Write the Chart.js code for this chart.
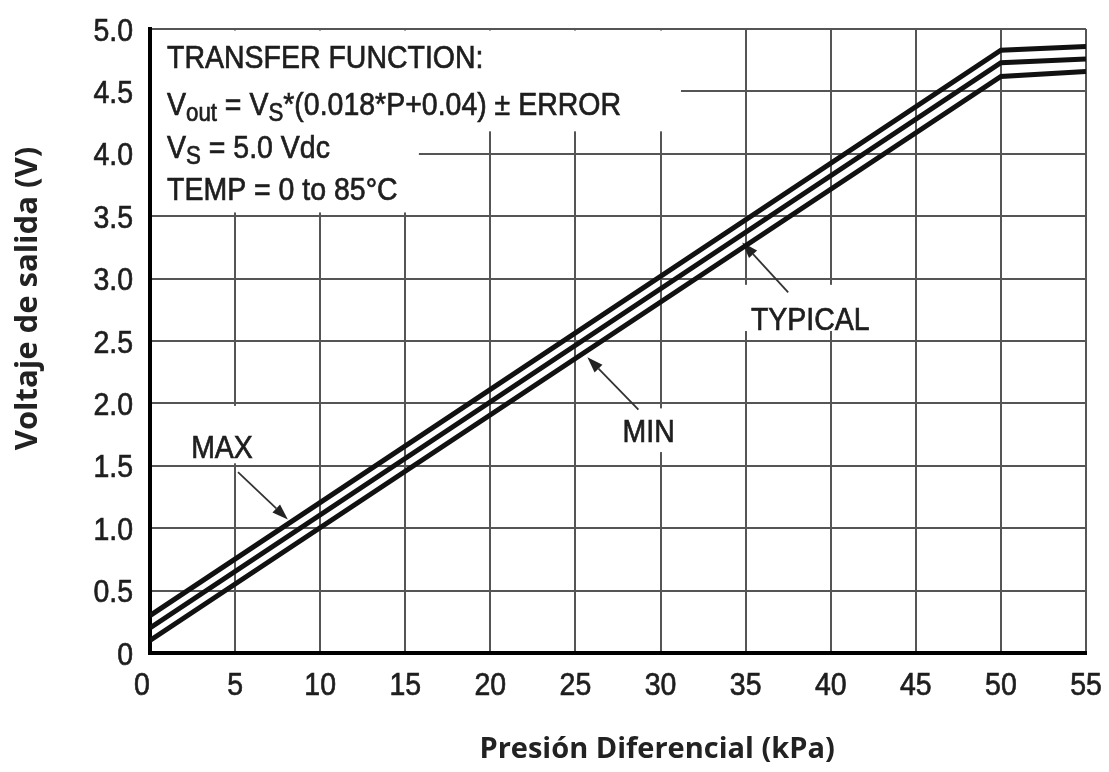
<!DOCTYPE html>
<html>
<head>
<meta charset="utf-8">
<script src="https://cdn.jsdelivr.net/npm/chart.js@4.4.1/dist/chart.umd.min.js"></script>
<style>
  html, body { margin: 0; padding: 0; background: #fff; }
  #wrap { width: 1109px; height: 772px; }
</style>
</head>
<body>
<div id="wrap"><canvas id="chart" width="1109" height="772"></canvas></div>
<script>
// pressure (kPa) and output voltage (V)
const pressure = [0, 50, 55];
const voltMax = [0.30, 4.83, 4.86];
const voltTyp = [0.20, 4.73, 4.76];
const voltMin = [0.10, 4.62, 4.66];

const xTickValues = [0, 5, 10, 15, 20, 25, 30, 35, 40, 45, 50, 55];
const xTickLabels = ['0', '5', '10', '15', '20', '25', '30', '35', '40', '45', '50', '55'];
const yTickValues = [0, 0.5, 1.0, 1.5, 2.0, 2.5, 3.0, 3.5, 4.0, 4.5, 5.0];
const yTickLabels = ['0', '0.5', '1.0', '1.5', '2.0', '2.5', '3.0', '3.5', '4.0', '4.5', '5.0'];

const xTitle = 'Presión Diferencial (kPa)';
const yTitle = 'Voltaje de salida (V)';

const sans = '"Liberation Sans", Arial, sans-serif';
const squeeze = 0.89;   // condensed look of the original lettering
const ink = '#1e1e1e';
const gridColor = '#555';

function toPoints(values) {
    return pressure.map((p, i) => ({ x: p, y: values[i] }));
}

function lineSet(label, values) {
    return {
        label: label,
        data: toPoints(values),
        showLine: true,
        borderColor: '#111',
        borderWidth: 5,
        pointRadius: 0,
        tension: 0,
    };
}

// narrow text: squeezed horizontally and a bit heavier, returns drawn width
function narrowText(ctx, text, x, y, size, align) {
    ctx.save();
    ctx.font = size + 'px ' + sans;
    ctx.textAlign = align || 'left';
    ctx.translate(x, y);
    ctx.scale(squeeze, 1);
    ctx.fillStyle = ink;
    ctx.strokeStyle = ink;
    ctx.lineWidth = 0.7;
    ctx.fillText(text, 0, 0);
    ctx.strokeText(text, 0, 0);
    const w = ctx.measureText(text).width * squeeze;
    ctx.restore();
    return w;
}

// row of pieces: [text, size, shiftDown]
function drawRuns(ctx, x, y, runs) {
    runs.forEach(([text, size, dy]) => {
        x += narrowText(ctx, text, x, y + dy, size, 'left');
    });
}

function arrow(ctx, x0, y0, x1, y1) {
    const ang = Math.atan2(y1 - y0, x1 - x0);
    const len = 16, half = 5.5;
    const bx = x1 - len * Math.cos(ang), by = y1 - len * Math.sin(ang);
    ctx.beginPath();
    ctx.moveTo(x0, y0);
    ctx.lineTo(bx, by);
    ctx.stroke();
    ctx.beginPath();
    ctx.moveTo(x1, y1);
    ctx.lineTo(bx + half * Math.sin(ang), by - half * Math.cos(ang));
    ctx.lineTo(bx - half * Math.sin(ang), by + half * Math.cos(ang));
    ctx.closePath();
    ctx.fill();
}

const notes = {
    id: 'notes',
    beforeDatasetsDraw(chart) {
        const { ctx, chartArea: a, scales: { x, y } } = chart;
        const px = v => x.getPixelForValue(v);
        const py = v => y.getPixelForValue(v);
        ctx.save();

        // white patches behind the texts
        ctx.fillStyle = '#fff';
        ctx.fillRect(a.left + 2, py(5) + 1.5, px(31.2) - a.left - 2, py(4.18) - py(5) - 1.5);
        ctx.fillRect(a.left + 2, py(4.18) - 1, px(15.8) - a.left - 2, py(3.53) - py(4.18) + 1);
        ctx.fillRect(px(34.8), py(2.95), px(42.4) - px(34.8), py(2.58) - py(2.95));
        ctx.fillRect(px(27.3), py(1.96), px(31.4) - px(27.3), py(1.61) - py(1.96));
        ctx.fillRect(px(2.0), py(1.98), px(6.6) - px(2.0), py(1.52) - py(1.98));

        ctx.textBaseline = 'alphabetic';
        const tx = px(1.0);
        drawRuns(ctx, tx, py(4.69), [['TRANSFER FUNCTION:', 32, 0]]);
        drawRuns(ctx, tx, py(4.31), [
            ['V', 32, 0], ['out', 25, 6], [' = V', 32, 0], ['S', 25, 6],
            ['*(0.018*P+0.04) \u00B1 ERROR', 32, 0]
        ]);
        drawRuns(ctx, tx, py(3.97), [['V', 32, 0], ['S', 25, 6], [' = 5.0 Vdc', 32, 0]]);
        drawRuns(ctx, tx, py(3.63), [['TEMP = 0 to 85\u00B0C', 32, 0]]);

        narrowText(ctx, 'MAX', px(4.23), py(1.56), 32, 'center');
        narrowText(ctx, 'TYPICAL', px(38.8), py(2.59), 32, 'center');
        narrowText(ctx, 'MIN', px(29.3), py(1.69), 32, 'center');

        ctx.strokeStyle = '#333';
        ctx.fillStyle = '#222';
        ctx.lineWidth = 1.8;
        arrow(ctx, px(5.17), py(1.45), px(8.1), py(1.07));
        arrow(ctx, px(37.5), py(2.89), px(34.8), py(3.29));
        arrow(ctx, px(28.7), py(1.95), px(25.7), py(2.37));

        // tick labels, placed by the scales
        x.ticks.forEach((t, i) => {
            const shift = i === 0 ? -8 : 0;
            narrowText(ctx, xTickLabels[i], x.getPixelForValue(t.value) + shift, a.bottom + 42, 32, 'center');
        });
        y.ticks.forEach((t, i) => {
            narrowText(ctx, yTickLabels[i], a.left - 17, y.getPixelForValue(t.value) + 11.5, 32, 'right');
        });

        // axis titles
        ctx.fillStyle = '#222';
        ctx.textAlign = 'center';
        ctx.textBaseline = 'middle';
        ctx.font = 'bold 29px "Open Sans", sans-serif';
        ctx.fillText(xTitle, px(29.8), a.bottom + 97);
        ctx.save();
        ctx.translate(28, py(2.84));
        ctx.rotate(-Math.PI / 2);
        ctx.font = 'bold 31px "Open Sans", sans-serif';
        ctx.fillText(yTitle, 0, 0);
        ctx.restore();
        ctx.restore();
    }
};

new Chart(document.getElementById('chart'), {
    type: 'scatter',
    data: {
        datasets: [
            lineSet('MAX', voltMax),
            lineSet('TYPICAL', voltTyp),
            lineSet('MIN', voltMin),
        ],
    },
    options: {
        responsive: false,
        animation: false,
        devicePixelRatio: 1,
        layout: { padding: { top: 29, right: 23, left: 0, bottom: 0 } },
        plugins: {
            legend: { display: false },
            tooltip: { enabled: false },
        },
        scales: {
            x: {
                type: 'linear',
                min: 0,
                max: 55,
                afterBuildTicks: s => { s.ticks = xTickValues.map(v => ({ value: v })); },
                afterFit: s => { s.height = 119; },
                grid: { color: gridColor, lineWidth: 2, drawTicks: false },
                border: { color: '#000', width: 4 },
                ticks: { display: false },
                title: { display: false, text: xTitle },
            },
            y: {
                type: 'linear',
                min: 0,
                max: 5,
                afterBuildTicks: s => { s.ticks = yTickValues.map(v => ({ value: v })); },
                afterFit: s => { s.width = 150; },
                grid: { color: gridColor, lineWidth: 2, drawTicks: false },
                border: { color: '#000', width: 4 },
                ticks: { display: false },
                title: { display: false, text: yTitle },
            },
        },
    },
    plugins: [notes],
});
</script>
</body>
</html>
